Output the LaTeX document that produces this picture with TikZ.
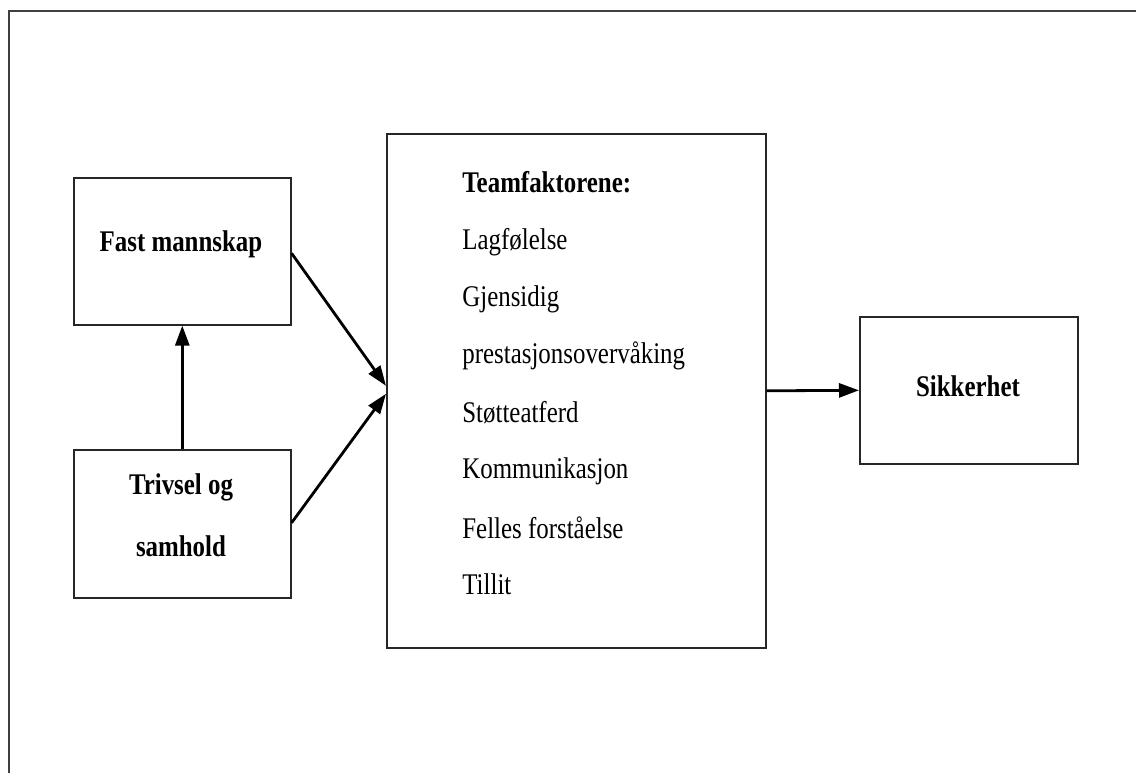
\documentclass[tikz,border=0pt]{standalone}
\usepackage{fontspec}
\setmainfont[FakeStretch=0.83]{Liberation Serif}
\usetikzlibrary{arrows.meta,calc}
\begin{document}
\begin{tikzpicture}[x=0.5pt,y=-0.5pt,
  box/.style={draw=black!85,line width=0.8pt,inner sep=0pt,anchor=north west},
  lbl/.style={font=\fontsize{15}{18}\selectfont\bfseries,align=center,inner sep=0pt},
  item/.style={font=\fontsize{15}{18}\selectfont,anchor=west,inner sep=0pt},
  arr/.style={line width=1.4pt,-{Triangle[length=10pt,width=7pt]}}]
\useasboundingbox (0,0) rectangle (1136,773);
\draw[black!75,line width=1.1pt] (9,773) -- (9,11) -- (1136,11);
% boxes
\node[box,minimum width=217*0.5pt,minimum height=147*0.5pt] (fm) at (73,177) {};
\node[box,minimum width=217*0.5pt,minimum height=148*0.5pt] (tr) at (73,449) {};
\node[box,minimum width=379*0.5pt,minimum height=514*0.5pt] (team) at (386,133) {};
\node[box,minimum width=218*0.5pt,minimum height=147*0.5pt] (sik) at (859,316) {};
% labels
\node[lbl] (fmt) at (181,244) {Fast mannskap};
\node[lbl] (trt1) at (181,487) {Trivsel og};
\node[lbl] (trt2) at (181,546) {samhold};
\node[lbl] (sikt) at (968,386) {Sikkerhet};
\node[item,font=\fontsize{15}{18}\selectfont\bfseries] (t0) at (462,182) {Teamfaktorene:};
\node[item] (t1) at (462,242) {Lagfølelse};
\node[item] (t2) at (462,299) {Gjensidig};
\node[item] (t3) at (462,356) {prestasjonsovervåking};
\node[item] (t4) at (462,413) {Støtteatferd};
\node[item] (t5) at (462,471) {Kommunikasjon};
\node[item] (t6) at (462,528) {Felles forståelse};
\node[item] (t7) at (462,584) {Tillit};
% arrows
\draw[arr] ($(fm.east)+(0,2)$) -- ($(team.west)+(0,-5)$);
\draw[arr] ($(tr.east)+(0,-1)$) -- ($(team.west)+(0,3)$);
\draw[arr] (tr.north) -- (fm.south);
\draw[arr] (team.east) -- (sik.west);
\end{tikzpicture}
\end{document}
